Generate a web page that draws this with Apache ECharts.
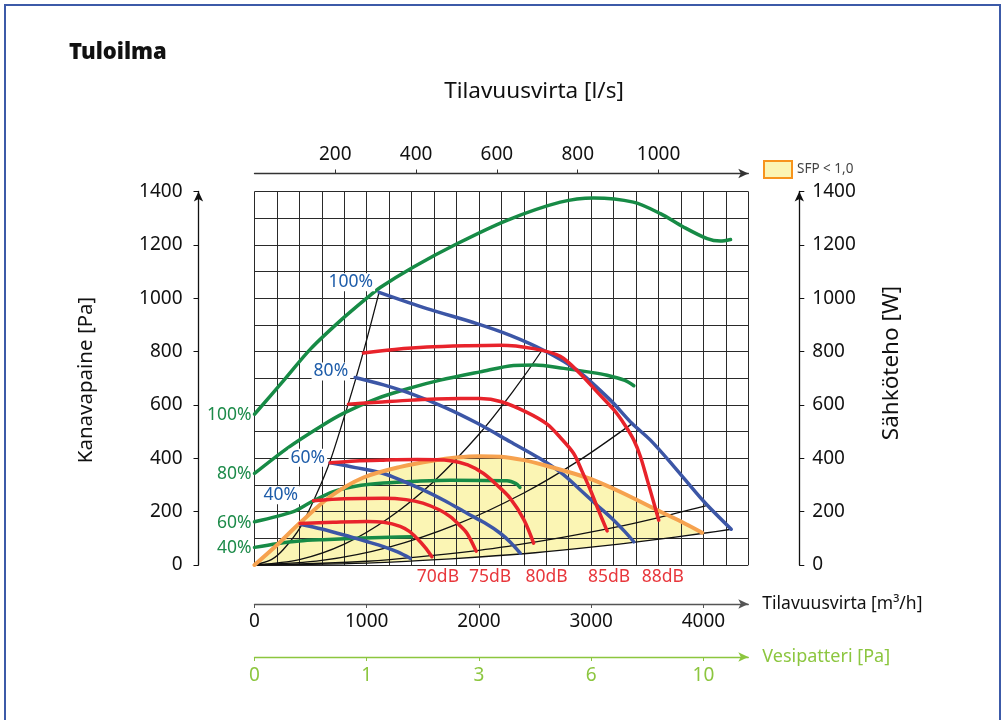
<!DOCTYPE html>
<html><head><meta charset="utf-8">
<script src="https://cdn.jsdelivr.net/npm/echarts@6/dist/echarts.min.js"></script>
<style>html,body{margin:0;padding:0;background:#fff}#c{width:1005px;height:720px}</style>
</head><body><div id="c"></div>
<script>
// ---- tick labels ----
const flowTicks = [0, 1000, 2000, 3000, 4000];          // m3/h
const lpsTicks = [200, 400, 600, 800, 1000];             // l/s
const vesiTicks = ['0', '1', '3', '6', '10'];            // Vesipatteri [Pa] at flowTicks
const speedLabels = ['100%', '80%', '60%', '40%'];
const dbLabels = ['70dB', '75dB', '80dB', '85dB', '88dB'];

// ---- fan curves (pressure Pa vs flow m3/h) ----
const blue100 = [[1110,1022],[1536,961],[1982,905],[2279,861],[2576,805],[2874,730],[3171,618],[3365,530],[3528,468],[3736,370],[4004,238],[4248,134]];
const blue80 = [[897,703],[1150,675],[1387,643],[1700,590],[1982,532],[2279,462],[2547,398],[2750,340],[2904,281],[3050,225],[3201,168],[3300,125],[3380,87]];
const blue60 = [[674,383],[900,365],[1149,343],[1506,281],[1700,240],[1893,194],[2050,158],[2190,119],[2280,85],[2368,44]];
const blue40 = [[406,153],[600,135],[852,106],[1000,88],[1149,69],[1280,48],[1387,25]];

// ---- power curves (W vs flow m3/h) ----
const green100 = [[0,565],[257,690],[500,810],[763,915],[1000,1000],[1120,1040],[1417,1117],[1804,1204],[2250,1292],[2725,1360],[3022,1376],[3376,1360],[3617,1317],[3822,1267],[4034,1223],[4150,1214],[4242,1220]];
const green80 = [[0,343],[300,440],[600,522],[800,570],[1090,624],[1400,665],[1655,693],[2012,724],[2309,748],[2500,750],[2755,737],[3000,722],[3142,711],[3300,692],[3380,672]];
const green60 = [[0,162],[346,200],[500,235],[703,275],[900,295],[1149,307],[1450,314],[1744,318],[2250,316],[2330,305],[2365,291]];
const green40 = [[0,66],[200,80],[400,90],[614,95],[900,100],[1200,104],[1400,106]];

// ---- sound level curves ----
const red70 = [[406,156],[700,160],[1000,163],[1150,160],[1298,145],[1380,126],[1447,100],[1520,66],[1581,31]];
const red75 = [[525,241],[800,248],[1149,250],[1350,245],[1500,232],[1650,206],[1744,181],[1820,152],[1893,119],[1975,52]];
const red80 = [[674,383],[900,390],[1149,393],[1450,395],[1744,391],[1900,375],[2041,343],[2160,300],[2279,250],[2400,170],[2487,82]];
const red85 = [[837,603],[1100,610],[1400,618],[1834,624],[2012,624],[2200,612],[2428,572],[2607,528],[2725,478],[2844,418],[2920,350],[2993,281],[3070,200],[3142,128]];
const red88 = [[970,795],[1250,808],[1536,817],[1900,822],[2190,824],[2487,811],[2725,782],[2900,718],[3050,650],[3201,582],[3300,525],[3380,468],[3440,405],[3499,320],[3550,245],[3602,168]];

// ---- system curves ----
const sys1 = [[0,0],[150,20],[257,58],[406,140],[555,268],[674,390],[792,545],[900,695],[1000,845],[1110,1022]];
const sys2 = [[0,0],[400,20],[800,78],[1200,177],[1600,314],[2000,490],[2300,649],[2562,805]];
const sys3 = [[0,0],[600,17],[1200,67],[1800,152],[2400,270],[2900,394],[3365,530]];
const sys4 = [[0,0],[1000,14],[2000,55],[2600,93],[3231,143],[3600,178],[4019,222]];
const sys5 = [[0,0],[500,2],[1000,7],[1500,17],[2000,30],[2500,46],[3000,67],[3500,91],[4000,119],[4248,134]];

// ---- SFP < 1,0 boundary ----
const sfp = [[0,0],[200,75],[406,158],[674,256],[971,328],[1300,368],[1600,392],[1800,403],[2000,408],[2200,406],[2400,393],[2576,375],[2844,343],[3022,318],[3290,268],[3588,206],[3800,163],[3989,121]];

const F = 'Noto Sans';
const GREEN = '#178b46', BLUE = '#3c56a6', RED = '#e8232b', ORANGE = '#f6a24f', FILL = '#fbf5b4';
const BLUE_T = '#1d5ca9', GREEN_T = '#1d8b4a', RED_T = '#e8373c', LGREEN = '#8cc63f';

function curve(data, color, width, z, extra) {
  return Object.assign({
    type: 'line', data: data, xAxisIndex: 0, yAxisIndex: 0, symbol: 'none', showSymbol: false,
    smooth: 0.3, lineStyle: { color: color, width: width, cap: 'round', join: 'round' }, itemStyle: { color: color },
    silent: true, animation: false, z: z
  }, extra || {});
}
function startLabel(data, text, color, offset, distance, bg) {
  return { symbol: 'circle', symbolSize: 0, silent: true, animation: false,
    data: [{ coord: data[0], label: { show: true, formatter: text, position: 'left', distance: distance,
      offset: offset, color: color, fontSize: 17.5, fontFamily: F,
      backgroundColor: bg ? '#fff' : 'transparent', padding: bg ? [0, 2] : 0 } }] };
}
function dbLabel(data, text, dx) {
  return { symbol: 'circle', symbolSize: 0, silent: true, animation: false,
    data: [{ coord: [data[data.length - 1][0], 0], label: { show: true, formatter: text, position: 'bottom',
      distance: 3, offset: [dx, 0], color: RED_T, fontSize: 17.5, fontFamily: F } }] };
}

const blues = [blue100, blue80, blue60, blue40];
const greens = [green100, green80, green60, green40];
const reds = [red70, red75, red80, red85, red88];
const systems = [sys1, sys2, sys3, sys4, sys5];
const blueOff = [[[0,-10],4], [[0,-6],5], [[0,-5],3], [[0,-29],0]];
const dbDx = [6, 14, 13, 2, 4];

const series = [];
series.push({
  type: 'custom', name: 'SFP < 1,0', xAxisIndex: 0, yAxisIndex: 0, z: 0, silent: true, animation: false,
  itemStyle: { color: FILL, borderColor: ORANGE },
  data: [[0, 0]],
  renderItem: function (params, api) {
    const endX = sfp[sfp.length - 1][0];
    const upper = sfp.map(function (p) { return api.coord(p); });
    const lower = sys5.filter(function (p) { return p[0] < endX; }).map(function (p) { return api.coord(p); }).reverse();
    return { type: 'polygon', shape: { points: upper.concat(lower) }, style: { fill: FILL } };
  }
});
systems.forEach(function (s) { series.push(curve(s, '#111', 1.3, 3, { smooth: 0.3 })); });
greens.forEach(function (g, i) {
  series.push(curve(g, GREEN, 3.5, 4, { markPoint: startLabel(g, speedLabels[i], GREEN_T, [0, 1], 3, false) }));
});
blues.forEach(function (b, i) {
  series.push(curve(b, BLUE, 3.5, 5, { markPoint: startLabel(b, speedLabels[i], BLUE_T, blueOff[i][0], blueOff[i][1], true) }));
});
series.push(curve(sfp, ORANGE, 4, 6));
reds.forEach(function (r, i) {
  series.push(curve(r, RED, 3.5, 7, { markPoint: dbLabel(r, dbLabels[i], dbDx[i]) }));
});

const gridLine = { show: true, lineStyle: { color: '#2a2a2a', width: 1 } };
const arrowLine = function (color) {
  return { show: true, onZero: false, symbol: ['none', 'arrow'], symbolSize: [7, 10], lineStyle: { color: color, width: 1.3 } };
};
const plain = function (v) { return String(v); };

const option = {
  animation: false,
  backgroundColor: '#fff',
  title: { text: 'Tuloilma', left: 69, top: 42, padding: 0,
    textStyle: { fontSize: 22, fontWeight: 900, color: '#111', fontFamily: F } },
  legend: { left: 763, top: 160, itemWidth: 28, itemHeight: 17, selectedMode: false, padding: 0,
    data: [{ name: 'SFP < 1,0', icon: 'rect', itemStyle: { color: FILL, borderColor: '#f7941d', borderWidth: 2 } }],
    textStyle: { fontSize: 13.5, color: '#444', fontFamily: F } },
  grid: { left: 254.5, top: 191.5, width: 493.8, height: 373.5 },
  xAxis: [
    { type: 'value', min: 0, max: 4400, interval: 200, position: 'bottom', z: 1,
      axisLine: { show: false, onZero: false }, axisTick: { show: false }, axisLabel: { show: false }, splitLine: gridLine },
    { type: 'value', min: 0, max: 4400, position: 'bottom', offset: 39,
      axisLine: arrowLine('#555'),
      axisTick: { show: true, length: 4, customValues: flowTicks, lineStyle: { color: '#555' } },
      axisLabel: { customValues: flowTicks, fontSize: 19, color: '#111', margin: 8, fontFamily: F, formatter: plain },
      splitLine: { show: false },
      name: 'Tilavuusvirta [m³/h]', nameLocation: 'end', nameGap: 14,
      nameTextStyle: { fontSize: 17.5, color: '#111', fontFamily: F } },
    { type: 'value', min: 0, max: 4400, position: 'bottom', offset: 92,
      axisLine: arrowLine(LGREEN),
      axisTick: { show: true, length: 4, customValues: flowTicks, lineStyle: { color: LGREEN } },
      axisLabel: { customValues: flowTicks, fontSize: 19, color: LGREEN, margin: 9, fontFamily: F,
        formatter: function (v) { return vesiTicks[flowTicks.indexOf(v)]; } },
      splitLine: { show: false },
      name: 'Vesipatteri [Pa]', nameLocation: 'end', nameGap: 14,
      nameTextStyle: { fontSize: 18, color: LGREEN, fontFamily: F } },
    { type: 'value', min: 0, max: 4400, position: 'top', offset: 18,
      axisLine: arrowLine('#333'),
      axisTick: { show: true, length: 4, customValues: lpsTicks.map(function (v) { return v * 3.6; }), lineStyle: { color: '#333' } },
      axisLabel: { customValues: lpsTicks.map(function (v) { return v * 3.6; }), fontSize: 19, color: '#111', margin: 9, fontFamily: F,
        formatter: function (v) { return String(Math.round(v / 3.6)); } },
      splitLine: { show: false } }
  ],
  yAxis: [
    { type: 'value', min: 0, max: 1400, interval: 100, position: 'left', z: 1,
      axisLine: { show: false, onZero: false }, axisTick: { show: false }, axisLabel: { show: false }, splitLine: gridLine },
    { type: 'value', min: 0, max: 1400, interval: 200, position: 'left', offset: 56,
      axisLine: arrowLine('#111'), axisTick: { show: true, length: 5, lineStyle: { color: '#111' } },
      axisLabel: { fontSize: 19, color: '#111', margin: 16, fontFamily: F, formatter: plain }, splitLine: { show: false } },
    { type: 'value', min: 0, max: 1400, interval: 200, position: 'right', offset: 51,
      axisLine: arrowLine('#111'), axisTick: { show: true, length: 5, lineStyle: { color: '#111' } },
      axisLabel: { fontSize: 19, color: '#111', margin: 13, fontFamily: F, formatter: plain }, splitLine: { show: false } }
  ],
  graphic: [
    { type: 'rect', silent: true, shape: { x: 5, y: 5, width: 995, height: 740 },
      style: { fill: 'none', stroke: '#3c5aa8', lineWidth: 2 } },
    { type: 'text', silent: true, x: 534, y: 92,
      style: { text: 'Tilavuusvirta [l/s]', fontSize: 22.5, fill: '#111', align: 'center', verticalAlign: 'middle', fontFamily: F } },
    { type: 'text', silent: true, x: 86, y: 380, rotation: Math.PI / 2,
      style: { text: 'Kanavapaine [Pa]', fontSize: 20.5, fill: '#111', align: 'center', verticalAlign: 'middle', fontFamily: F } },
    { type: 'text', silent: true, x: 892, y: 363, rotation: Math.PI / 2,
      style: { text: 'Sähköteho [W]', fontSize: 22.5, fill: '#111', align: 'center', verticalAlign: 'middle', fontFamily: F } }
  ],
  series: series
};

const chart = echarts.init(document.getElementById('c'), null, { renderer: 'canvas' });
chart.setOption(option);
</script>
</body></html>
